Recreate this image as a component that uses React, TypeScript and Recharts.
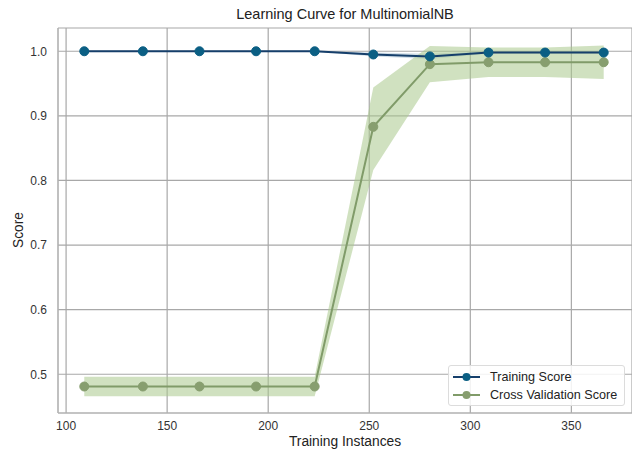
import React from 'react';
import { ComposedChart, Line, Area, XAxis, YAxis, CartesianGrid } from 'recharts';

const trainSizes = [109, 138, 166, 194, 223, 252, 280, 309, 337, 366];
const trainScore = [1.0, 1.0, 1.0, 1.0, 1.0, 0.995, 0.992, 0.998, 0.998, 0.998];
const trainLow = [1.0, 1.0, 1.0, 1.0, 1.0, 0.992, 0.988, 0.996, 0.996, 0.996];
const trainHigh = [1.0, 1.0, 1.0, 1.0, 1.0, 0.998, 0.996, 1.0, 1.0, 1.0];
const cvScore = [0.481, 0.481, 0.481, 0.481, 0.481, 0.883, 0.98, 0.983, 0.983, 0.983];
const cvLow = [0.466, 0.466, 0.466, 0.466, 0.466, 0.816, 0.952, 0.96, 0.96, 0.957];
const cvHigh = [0.496, 0.496, 0.496, 0.496, 0.496, 0.944, 1.008, 1.006, 1.006, 1.009];

const xTicks = [100, 150, 200, 250, 300, 350];
const yTicks = [0.5, 0.6, 0.7, 0.8, 0.9, 1.0];

const data = trainSizes.map((n, i) => ({
    n,
    train: trainScore[i],
    trainBand: [trainLow[i], trainHigh[i]],
    cv: cvScore[i],
    cvBand: [cvLow[i], cvHigh[i]],
}));

const font = '"Liberation Sans", Arial, Helvetica, sans-serif';
const trainColor = '#0b5f84';
const trainLine = '#163f6b';
const cvColor = '#809b69';

const LegendRow = ({ color, line, label }: { color: string; line: string; label: string }) => (
    <div style={{ display: 'flex', alignItems: 'center', height: 18 }}>
        <svg width={29} height={10} style={{ marginRight: 9 }}>
            <line x1={1} y1={5} x2={28} y2={5} stroke={line} strokeWidth={2} />
            <circle cx={14.5} cy={5} r={4} fill={color} />
        </svg>
        <span>{label}</span>
    </div>
);

export default function App() {
    return (
        <div style={{ position: 'absolute', left: 0, top: 0, width: 632, height: 450, background: '#fff', fontFamily: font }}>
            <div style={{ position: 'absolute', left: 58, width: 574, top: 6, textAlign: 'center', fontSize: 14.5, color: '#222' }}>
                Learning Curve for MultinomialNB
            </div>
            <div style={{ position: 'absolute', left: 58, width: 574, top: 434, textAlign: 'center', fontSize: 13.8, color: '#222' }}>
                Training Instances
            </div>
            <div
                style={{
                    position: 'absolute',
                    left: 18,
                    top: 230,
                    transform: 'translate(-50%, -50%) rotate(-90deg)',
                    fontSize: 13.8,
                    color: '#222',
                }}
            >
                Score
            </div>
            <ComposedChart width={632} height={450} data={data} margin={{ top: 28, right: 0, left: 0, bottom: 0 }}>
                <CartesianGrid stroke="#a8a8a8" strokeWidth={1.2} />
                <XAxis
                    dataKey="n"
                    type="number"
                    domain={[96, 380]}
                    ticks={xTicks}
                    height={37}
                    tickLine={false}
                    axisLine={{ stroke: '#b5b5b5' }}
                    tick={{ fill: '#333', fontSize: 12, fontFamily: font }}
                    allowDataOverflow
                />
                <XAxis xAxisId="top" dataKey="n" type="number" domain={[96, 380]} orientation="top" height={0} tick={false} tickLine={false} axisLine={{ stroke: '#b5b5b5' }} />
                <YAxis
                    type="number"
                    domain={[0.44, 1.036]}
                    ticks={yTicks}
                    width={58}
                    tickLine={false}
                    tickMargin={5}
                    axisLine={{ stroke: '#b5b5b5' }}
                    tickFormatter={(v: number) => v.toFixed(1)}
                    tick={{ fill: '#333', fontSize: 12, fontFamily: font }}
                    allowDataOverflow
                />
                <Area dataKey="trainBand" stroke="none" fill="#7fa2bd" fillOpacity={0.35} isAnimationActive={false} />
                <Area dataKey="cvBand" stroke="none" fill="#a9c98d" fillOpacity={0.55} isAnimationActive={false} />
                <Line
                    dataKey="cv"
                    stroke={cvColor}
                    strokeWidth={2}
                    dot={{ r: 4.5, fill: '#879e6f', stroke: '#879e6f', strokeWidth: 1 }}
                    activeDot={false}
                    isAnimationActive={false}
                />
                <Line
                    dataKey="train"
                    stroke={trainLine}
                    strokeWidth={2}
                    dot={{ r: 4.5, fill: trainColor, stroke: trainColor, strokeWidth: 1 }}
                    activeDot={false}
                    isAnimationActive={false}
                />
            </ComposedChart>
            <div
                style={{
                    position: 'absolute',
                    left: 448,
                    top: 365,
                    width: 177,
                    height: 41,
                    boxSizing: 'border-box',
                    padding: '2px 0 0 3px',
                    border: '1px solid #dcdcdc',
                    borderRadius: 3,
                    background: 'rgba(255,255,255,0.85)',
                    fontSize: 12.6,
                    color: '#222',
                }}
            >
                <LegendRow color={trainColor} line={trainLine} label="Training Score" />
                <LegendRow color="#879e6f" line={cvColor} label="Cross Validation Score" />
            </div>
        </div>
    );
}
